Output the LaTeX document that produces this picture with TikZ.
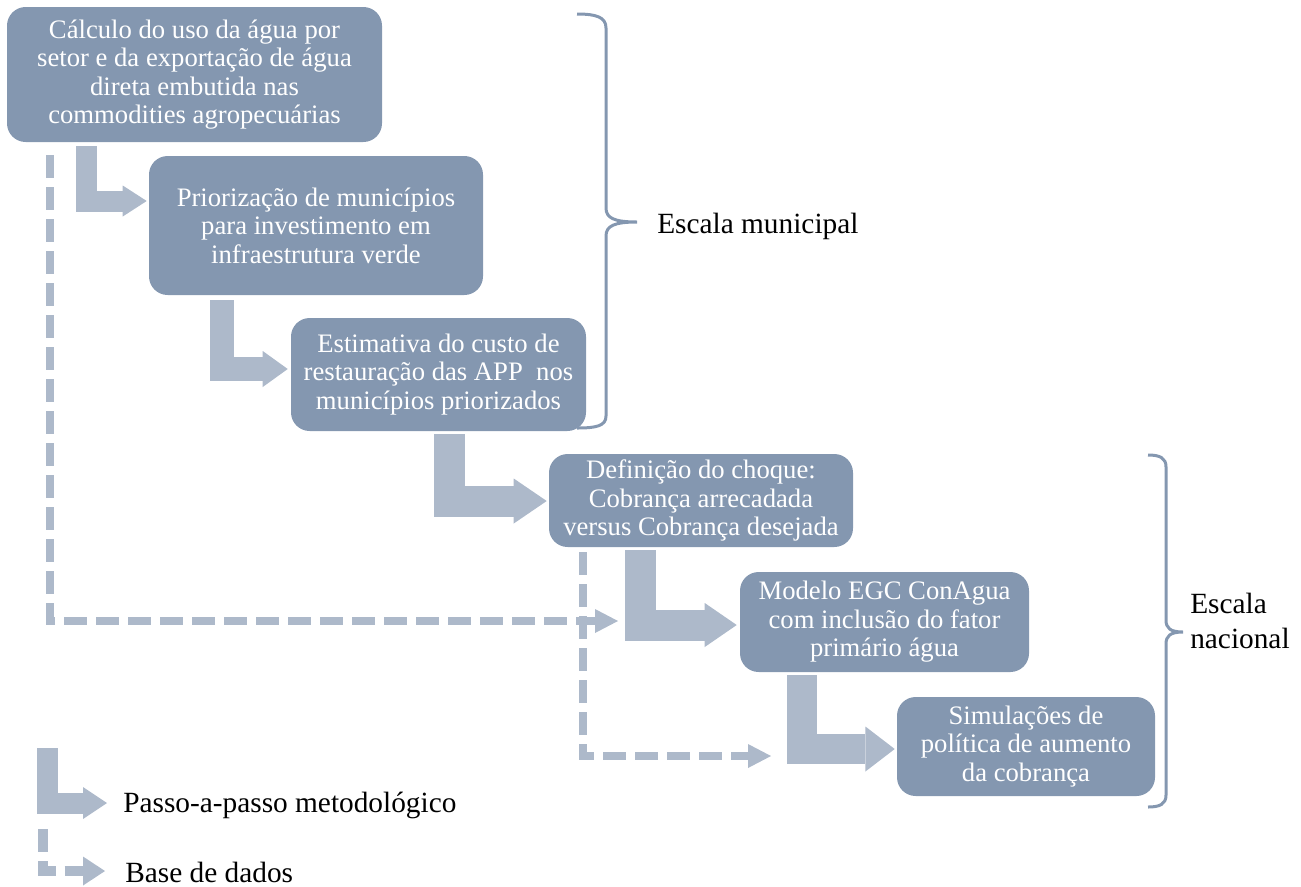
\documentclass[tikz,border=0pt]{standalone}
\usepackage{fontspec}
\setmainfont{Liberation Serif}
\usetikzlibrary{arrows.meta,calc}
\definecolor{boxfill}{HTML}{8497B0}
\definecolor{stepfill}{HTML}{ADB9CA}

\begin{document}
\begin{tikzpicture}[x=0.75pt,y=0.75pt,yscale=-1,xscale=1,
  box/.style={fill=boxfill,rounded corners=14pt,text=white,align=center,inner sep=0pt,font=\fontsize{20}{21.4}\selectfont},
  steparrow/.style n args={3}{draw=stepfill,line width=#1,-{Triangle[length=#2,width=#3,line width=0pt]}},
  dataarrow/.style={draw=stepfill,line width=6pt,dash pattern=on 17.25pt off 6.75pt,-{Triangle[length=17.25pt,width=18pt,line width=0pt]}},
  scalebrace/.style={draw=boxfill,line width=2.25pt},
  lbl/.style={inner sep=0pt,align=left,font=\fontsize{22}{26.25}\selectfont}]
\useasboundingbox (0,0) rectangle (1301,886);

%Shape: Rounded Rect
\node[box,minimum width=281.25pt,minimum height=101.25pt] (calc) at (194.5,74.5) {Cálculo do uso da água por\\setor e da exportação de água\\direta embutida nas\\commodities agropecuárias};
%Shape: Rounded Rect
\node[box,minimum width=250.5pt,minimum height=104.25pt] (prior) at (316,225.5) {Priorização de municípios\\para investimento em\\infraestrutura verde};
%Shape: Rounded Rect
\node[box,minimum width=221.25pt,minimum height=84.75pt] (custo) at (438.5,374.5) {Estimativa do custo de\\restauração das APP\ \ nos\\municípios priorizados};
%Shape: Rounded Rect
\node[box,minimum width=228pt,minimum height=69.75pt] (choque) at (701,500.5) {Definição do choque:\\Cobrança arrecadada\\versus Cobrança desejada};
%Shape: Rounded Rect
\node[box,minimum width=216.75pt,minimum height=75pt] (modelo) at (884.5,622) {Modelo EGC ConAgua\\com inclusão do fator\\primário água};
%Shape: Rounded Rect
\node[box,minimum width=193.5pt,minimum height=74.25pt] (simul) at (1026,746.5) {Simulações de\\política de aumento\\da cobrança};

%Bent Arrows
\draw[steparrow={15.75pt}{18pt}{23.25pt}] ($(calc.south west)+(79.5,4)$) |- ($(prior.west)+(-2,-24.5)$);
\draw[steparrow={18pt}{18.75pt}{27pt}] ($(prior.south west)+(73,5)$) |- ($(custo.west)+(-3,-5.5)$);
\draw[steparrow={23.25pt}{24.75pt}{33.75pt}] ($(custo.south west)+(158.5,3)$) |- ($(choque.west)+(-2,0.5)$);
\draw[steparrow={23.25pt}{24pt}{33pt}] ($(choque.south west)+(91.5,3)$) |- ($(modelo.west)+(-3,3)$);
\draw[steparrow={22.5pt}{22pt}{33.75pt}] ($(modelo.south west)+(62,3)$) |- ($(simul.west)+(-2,2.5)$);

%Dashed Lines
\coordinate (d1end) at (618,621);
\coordinate (d2end) at (771,756);
\draw[dataarrow] ($(calc.south west)+(43,13)$) |- (d1end);
\draw[dataarrow] ($(choque.south west)+(34,5)$) |- (d2end);

%Shape: Brace
\draw[scalebrace] (577,14) .. controls (596,14) and (606,17) .. (606,28) -- (606,208) .. controls (606,218) and (614,222) .. (637,222) .. controls (614,222) and (606,226) .. (606,236) -- (606,416) .. controls (606,426) and (596,428) .. (577,428);
%Shape: Brace
\draw[scalebrace] (1148,455) .. controls (1160,455) and (1166,458) .. (1166,467) -- (1166,620) .. controls (1166,628) and (1170,632) .. (1183,632) .. controls (1170,632) and (1166,636) .. (1166,644) -- (1166,795) .. controls (1166,804) and (1160,807) .. (1148,807);

% Text Node
\node[lbl,anchor=base west] (munic) at (657,233) {Escala municipal};
% Text Node
\node[lbl,anchor=north west] (nacion) at (1190,593) {Escala\\nacional};

%Legend
\coordinate (ls1) at (47.5,748);
\coordinate (ls2) at (107,803);
\draw[steparrow={15.75pt}{18pt}{24pt}] (ls1) |- (ls2);
\coordinate (ld1) at (42.5,829);
\coordinate (ld2) at (105,871);
\draw[dataarrow,line width=7.5pt,-{Triangle[length=16.5pt,width=21.75pt,line width=0pt]}] (ld1) |- (ld2);
% Text Node
\node[lbl,anchor=base west] (legstep) at (123,812) {Passo-a-passo metodológico};
% Text Node
\node[lbl,anchor=base west] (legdata) at (125,882) {Base de dados};

\end{tikzpicture}
\end{document}
